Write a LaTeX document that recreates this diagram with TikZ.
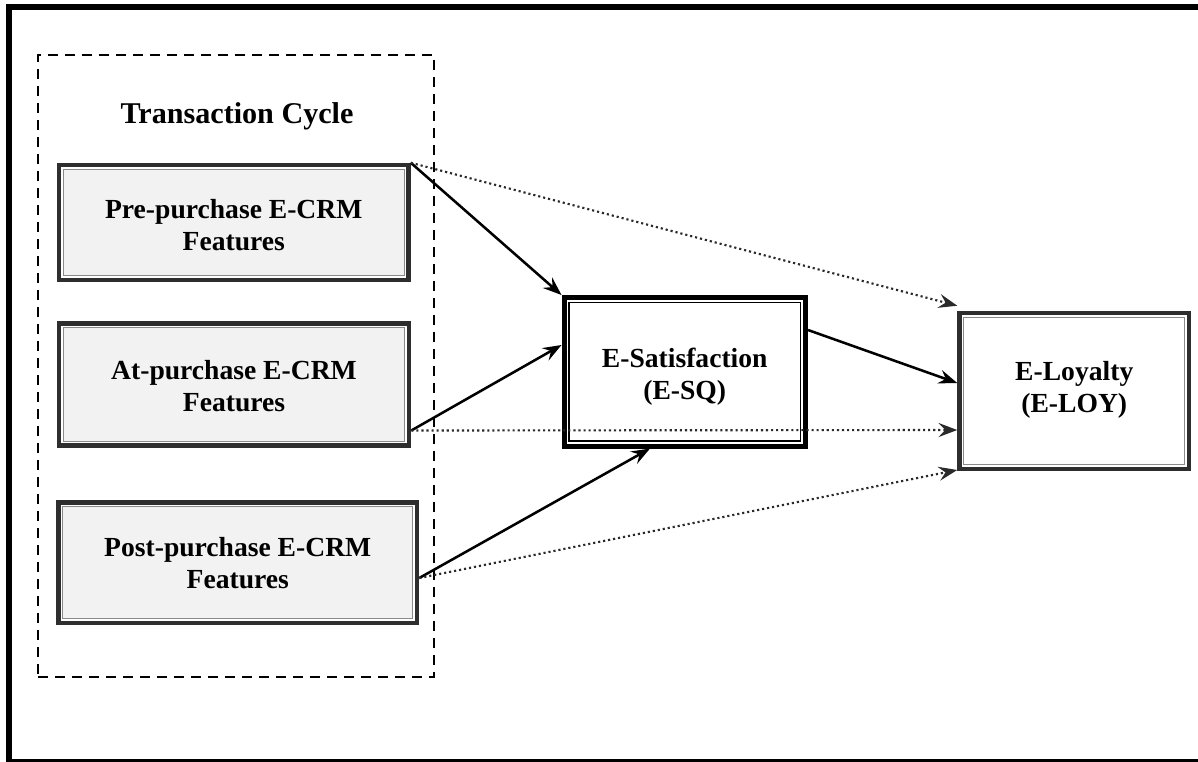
\documentclass[tikz,border=0pt]{standalone}
\usepackage{fontspec}
\setmainfont{Liberation Serif}
\usetikzlibrary{arrows.meta,calc}

\definecolor{boxedge}{HTML}{2E2E2E}
\definecolor{boxinner}{HTML}{8A8A8A}
\definecolor{boxfill}{HTML}{F2F2F2}
\definecolor{dotcol}{HTML}{2A2A2A}

% two-line label; #1 sets the height of the first line (places the text vertically)
\newcommand{\stackedlabel}[3]{\rule{0pt}{#1}#2\\#3\rule[-12pt]{0pt}{12pt}}

\begin{document}
\begin{tikzpicture}[x=0.75pt,y=-0.75pt,
  labelfont/.style={font=\bfseries\fontsize{20.7}{24.2}\selectfont},
  % double-ruled box: heavy dark rule, white band, thin grey rule
  framebox/.style={labelfont, draw=boxedge, line width=3.4pt, inner sep=0pt,
    align=center,
    path picture={
      \draw[white, line width=1pt]
        ([shift={(2.2pt,2.2pt)}]path picture bounding box.south west) rectangle
        ([shift={(-2.2pt,-2.2pt)}]path picture bounding box.north east);
      \draw[boxinner, line width=0.9pt]
        ([shift={(3.15pt,3.15pt)}]path picture bounding box.south west) rectangle
        ([shift={(-3.15pt,-3.15pt)}]path picture bounding box.north east);
    }},
  featurebox/.style={framebox, fill=boxfill},
  % central construct: black heavy rule with thin black inner rule
  corebox/.style={labelfont, draw=black, line width=3.75pt, fill=white,
    inner sep=0pt, align=center,
    path picture={
      \draw[black, line width=0.8pt]
        ([shift={(3.75pt,3.75pt)}]path picture bounding box.south west) rectangle
        ([shift={(-3.75pt,-3.75pt)}]path picture bounding box.north east);
    }},
  cyclebox/.style={draw=black, line width=1.5pt, dash pattern=on 7.5pt off 5.25pt,
    inner sep=0pt, minimum width=297pt, minimum height=466.5pt},
  tip/.style={-{Stealth[length=14pt,width=10.5pt,inset=5pt]}},
  solidlink/.style={tip, draw=black, line width=1.9pt},
  dottedlink/.style={tip, draw=dotcol, line width=1.6pt, dash pattern=on 1.6pt off 2.2pt},
]
\path[use as bounding box, clip] (0,0) rectangle (1198,761);

% outer frame
\draw[line width=4.5pt] (9,6.5) rectangle (1215,762);

% transaction cycle grouping
\node[cyclebox] (cycle) at (236,366) {};
\node[font=\bfseries\fontsize{22.6}{26}\selectfont] (title) at (237,116) {Transaction Cycle};

% feature boxes
\node[featurebox, minimum width=262.1pt, minimum height=86.25pt] (pre) at (233.75,222.5)
  {\stackedlabel{29.9pt}{Pre-purchase E-CRM}{Features}};
\node[featurebox, minimum width=262.5pt, minimum height=91.5pt] (at) at (234,384.5)
  {\stackedlabel{28pt}{At-purchase E-CRM}{Features}};
\node[featurebox, minimum width=268.9pt, minimum height=90.4pt] (post) at (237.75,562.75)
  {\stackedlabel{26.5pt}{Post-purchase E-CRM}{Features}};

% outcome constructs
\node[corebox, minimum width=181.1pt, minimum height=111.4pt] (esat) at (684.75,371.75)
  {\stackedlabel{29.5pt}{E-Satisfaction}{(E-SQ)}};
\node[framebox, fill=white, minimum width=172.1pt, minimum height=117pt] (eloy) at (1074.25,391)
  {\stackedlabel{20.4pt}{E-Loyalty}{(E-LOY)}};

% direct effects on satisfaction and loyalty
\draw[solidlink] (pre.north east) -- (esat.north west);
\draw[solidlink] ([shift={(0,46)}]at.east) -- ([shift={(0,-26.75)}]esat.west);
\draw[solidlink] ([shift={(0,15.25)}]post.east) -- ([shift={(-34.75,0)}]esat.south);
\draw[solidlink] ([shift={(0,-41.75)}]esat.east) -- ([shift={(0,-8)}]eloy.west);

% paths from features straight to loyalty
\draw[dottedlink] (pre.north east) -- ([shift={(0,-5)}]eloy.north west);
\draw[dottedlink] ([shift={(0,46)}]at.east) -- ([shift={(0,39)}]eloy.west);
\draw[dottedlink] ([shift={(0,15.25)}]post.east) -- ([shift={(0,79)}]eloy.west);
\end{tikzpicture}
\end{document}
